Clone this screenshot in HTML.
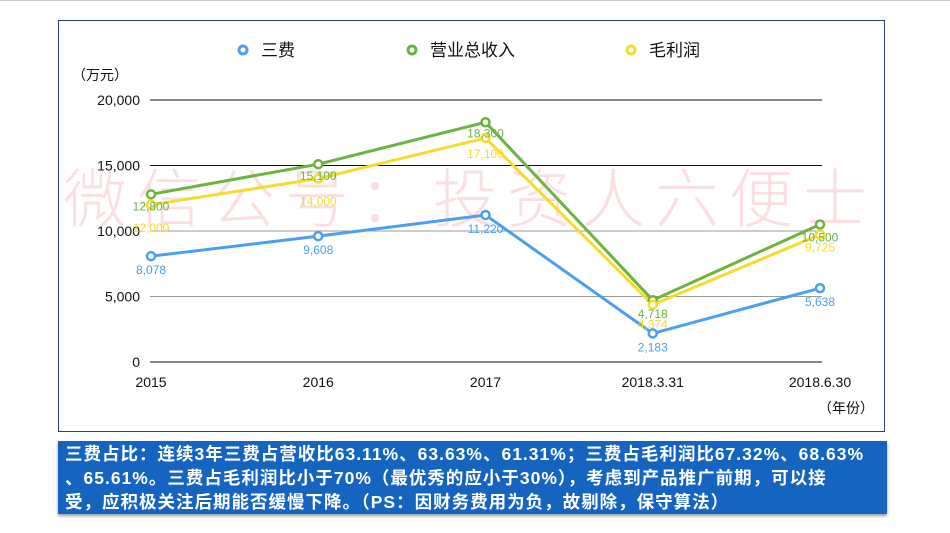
<!DOCTYPE html>
<html><head><meta charset="utf-8">
<style>
body{margin:0;width:950px;height:533px;background:#fff;overflow:hidden;font-family:"Liberation Sans","Noto Sans CJK SC",sans-serif;}
#top{position:absolute;left:0;top:0;width:950px;height:1px;background:#ccc;}
#box{position:absolute;left:58px;top:20px;width:827px;height:412px;border:1.5px solid #2c3e73;box-sizing:border-box;}
#note{position:absolute;left:58px;top:441px;width:829px;height:73px;background:#1565c0;color:#fff;font-size:17.5px;letter-spacing:1px;line-height:24px;padding:1px 7px;box-sizing:border-box;box-shadow:0 2px 3px #999;white-space:nowrap;font-weight:bold;}
svg{position:absolute;left:0;top:0;}
</style></head><body>
<div id="top"></div>
<div id="box"></div>
<svg width="950" height="533" id="chart"></svg>
<div id="note">三费占比：连续3年三费占营收比63.11%、63.63%、61.31%；三费占毛利润比67.32%、68.63%<br>、65.61%。三费占毛利润比小于70%（最优秀的应小于30%），考虑到产品推广前期，可以接<br>受，应积极关注后期能否缓慢下降。（PS：因财务费用为负，故剔除，保守算法）</div>
<script>
const categories=["2015","2016","2017","2018.3.31","2018.6.30"];
const sanfei=[8078,9608,11220,2183,5638];
const revenue=[12800,15100,18300,4718,10500];
const profit=[12000,14000,17100,4374,9725];
const yTicks=[0,5000,10000,15000,20000];
const seriesNames=["三费","营业总收入","毛利润"];
const NS="http://www.w3.org/2000/svg";
const svg=document.getElementById('chart');
const x0=151,x1=820,y0=362,y1=100;
const xs=i=>x0+(x1-x0)*i/(categories.length-1);
const ys=v=>y0-(y0-y1)*v/20000;
function mk(t,a,txt){const e=document.createElementNS(NS,t);for(const k in a)e.setAttribute(k,a[k]);if(txt!==undefined)e.textContent=txt;svg.appendChild(e);return e;}
const fmt=v=>v.toLocaleString('en-US');
let wm=mk('text',{x:470,y:222,'font-size':64,fill:'#f9dfe1','text-anchor':'middle','font-family':'"Noto Sans CJK SC",sans-serif','letter-spacing':'10','font-weight':'300'},'微信公号：投资人六便士');

yTicks.forEach(v=>{
 let g=mk('line',{x1:150,x2:822,y1:ys(v),y2:ys(v),stroke:v>=15000||v==0?'#111':'#999','stroke-width':1});
 
 let t=mk('text',{x:140,y:ys(v)+5,'font-size':14,'text-anchor':'end',fill:'#111'},fmt(v));
 
});
categories.forEach((c,i)=>{
 let t=mk('text',{x:xs(i),y:387,'font-size':14,'text-anchor':'middle',fill:'#111'},c);
 
});
let yu=mk('text',{x:72,y:80,'font-size':14,fill:'#111'},'（万元）');

let xu=mk('text',{x:818,y:413,'font-size':14,fill:'#111'},'（年份）');

const colors=['#4a9ff0','#6cb33f','#f5dc2a'];
const data=[sanfei,revenue,profit];
const order=[1,2,0];
order.forEach(s=>{
 const pts=data[s].map((v,i)=>xs(i)+','+ys(v)).join(' ');
 let pl=mk('polyline',{points:pts,fill:'none',stroke:colors[s],'stroke-width':3});
 
});
order.forEach(s=>{
 data[s].forEach((v,i)=>{
  let c=mk('circle',{cx:xs(i),cy:ys(v),r:4,fill:'#fff',stroke:colors[s],'stroke-width':2.5});
  
 });
});
const dyTab=[[18,18,18,18,18],[16,16,15,18,17],[27,27,20,24,17]];
data.forEach((arr,s)=>arr.forEach((v,i)=>{
 let t=mk('text',{x:xs(i),y:ys(v)+dyTab[s][i],'font-size':12,'text-anchor':'middle',fill:colors[s]},fmt(v));
 
}));
const lx=[243,412,631];
seriesNames.forEach((n,s)=>{
 let c=mk('circle',{cx:lx[s],cy:50,r:4,fill:'#fff',stroke:colors[s],'stroke-width':3});
 
 let t=mk('text',{x:lx[s]+18,y:56,'font-size':17,fill:'#111'},n);
 
});
</script>
</body></html>
